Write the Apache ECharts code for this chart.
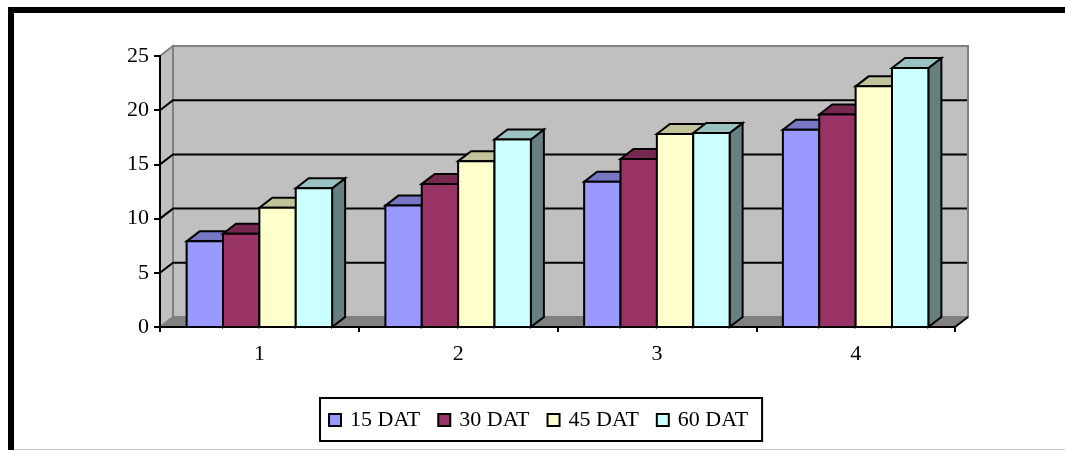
<!DOCTYPE html>
<html>
<head>
<meta charset="utf-8">
<style>html,body{margin:0;padding:0;background:#fff}#chart{width:1065px;height:450px}</style>
<script src="https://cdn.jsdelivr.net/npm/echarts@6/dist/echarts.min.js"></script>
</head>
<body>
<div id="chart"></div>
<script>
// Crop growth by sampling time: four treatments, four readings each
const categories = ['1', '2', '3', '4'];
const dat15 = [7.9, 11.2, 13.4, 18.2];
const dat30 = [8.6, 13.2, 15.5, 19.6];
const dat45 = [11.0, 15.3, 17.8, 22.2];
const dat60 = [12.8, 17.3, 17.9, 23.9];
const seriesNames = ['15 DAT', '30 DAT', '45 DAT', '60 DAT'];
const yTicks = [5, 10, 15, 20];

const FONT = '"Liberation Serif", "Times New Roman", serif';
const DX = 13, DY = 10;          // oblique offset of the chart's depth
const BAR_SHARE = 0.183;         // bar width as a share of one category band

const faces = [
  { front: '#9999ff', top: '#7777c4', side: '#666699' },
  { front: '#993366', top: '#772850', side: '#661f44' },
  { front: '#ffffcc', top: '#c2c29b', side: '#808066' },
  { front: '#ccffff', top: '#99c2c0', side: '#668080' }
];

const outline = { stroke: '#000', lineWidth: 2, lineJoin: 'miter' };

// Walls and floor behind the bars
function renderWalls(params, api) {
  const band = api.size([1, 0])[0];
  const [c0, y0] = api.coord([0, 0]);
  const x0 = c0 - band / 2;
  const x1 = x0 + band * categories.length;
  const yTop = api.coord([0, 25])[1];
  const poly = (points, fill, stroke, w) => ({
    type: 'polygon',
    shape: { points },
    style: { fill, stroke: stroke || 'none', lineWidth: w || 0 }
  });
  const kids = [
    poly([[x0 + DX, yTop - DY], [x1 + DX, yTop - DY], [x1 + DX, y0 - DY], [x0 + DX, y0 - DY]], '#c0c0c0', '#808080', 2),
    poly([[x0, yTop], [x0 + DX, yTop - DY], [x0 + DX, y0 - DY], [x0, y0]], '#c0c0c0', '#808080', 2),
    poly([[x0, y0], [x0 + DX, y0 - DY], [x1 + DX, y0 - DY], [x1, y0]], '#808080', '#808080', 1)
  ];
  yTicks.forEach(v => {
    const y = api.coord([0, v])[1];
    kids.push({
      type: 'polyline',
      shape: { points: [[x0, y], [x0 + DX, y - DY], [x1 + DX - 1, y - DY]] },
      style: { fill: 'none', stroke: '#000', lineWidth: 2 }
    });
  });
  kids.push({
    type: 'line',
    shape: { x1, y1: y0, x2: x1 + DX, y2: y0 - DY },
    style: { stroke: '#000', lineWidth: 2 }
  });
  return { type: 'group', children: kids };
}

// One oblique box per value: front, top and right faces
function makeBarRenderer(slot) {
  return function (params, api) {
    const cat = api.value(0);
    const val = api.value(1);
    const base = api.coord([cat, 0]);
    const top = api.coord([cat, val]);
    const w = api.size([1, 0])[0] * BAR_SHARE;
    const l = base[0] - 2 * w + slot * w;
    const r = l + w;
    const f = faces[slot];
    const face = (points, fill) => ({
      type: 'polygon',
      shape: { points },
      style: Object.assign({ fill }, outline)
    });
    return {
      type: 'group',
      children: [
        face([[r, base[1]], [r + DX, base[1] - DY], [r + DX, top[1] - DY], [r, top[1]]], f.side),
        face([[l, top[1]], [l + DX, top[1] - DY], [r + DX, top[1] - DY], [r, top[1]]], f.top),
        face([[l, base[1]], [l, top[1]], [r, top[1]], [r, base[1]]], f.front)
      ]
    };
  };
}

const values = [dat15, dat30, dat45, dat60];

const option = {
  animation: false,
  backgroundColor: '#fff',
  textStyle: { fontFamily: FONT },
  grid: { left: 160, top: 56, width: 795, height: 271 },
  xAxis: {
    type: 'category',
    data: categories,
    z: 6,
    axisLine: { lineStyle: { color: '#000', width: 2 } },
    axisTick: { show: true, length: 5, lineStyle: { color: '#000', width: 2 } },
    axisLabel: { color: '#000', fontFamily: FONT, fontSize: 22, margin: 16 }
  },
  yAxis: {
    type: 'value',
    min: 0,
    max: 25,
    interval: 5,
    z: 6,
    splitLine: { show: false },
    axisLine: { show: true, lineStyle: { color: '#000', width: 2 } },
    axisTick: { show: true, length: 6, lineStyle: { color: '#000', width: 2 } },
    axisLabel: { color: '#000', fontFamily: FONT, fontSize: 22, margin: 11 }
  },
  legend: {
    left: 320,
    top: 398,
    data: seriesNames,
    orient: 'horizontal',
    icon: 'rect',
    itemWidth: 12,
    itemHeight: 12,
    itemGap: 17,
    padding: [11, 14, 10, 8],
    borderColor: '#000',
    borderWidth: 2,
    backgroundColor: '#fff',
    selectedMode: false,
    textStyle: { color: '#000', fontFamily: FONT, fontSize: 22, padding: [0, 0, 0, 4] },
    itemStyle: { borderColor: '#000', borderWidth: 2 }
  },
  graphic: [
    { type: 'rect', silent: true, shape: { x: 8, y: 7, width: 1057, height: 6 }, style: { fill: '#000' } },
    { type: 'rect', silent: true, shape: { x: 8, y: 7, width: 6, height: 443 }, style: { fill: '#000' } },
    { type: 'rect', silent: true, shape: { x: 14, y: 449, width: 1051, height: 1 }, style: { fill: '#c8c8c8' } }
  ],
  series: [
    {
      type: 'custom',
      name: 'walls',
      silent: true,
      z: 1,
      clip: false,
      renderItem: renderWalls,
      data: [[0, 0]],
      encode: { x: 0, y: 1 }
    }
  ].concat(seriesNames.map((name, slot) => ({
    type: 'custom',
    name,
    z: 2 + slot,
    clip: false,
    itemStyle: { color: faces[slot].front },
    renderItem: makeBarRenderer(slot),
    data: categories.map((c, i) => [i, values[slot][i]]),
    encode: { x: 0, y: 1 }
  })))
};

echarts.init(document.getElementById('chart'), null, { renderer: 'canvas' }).setOption(option);
</script>
</body>
</html>
